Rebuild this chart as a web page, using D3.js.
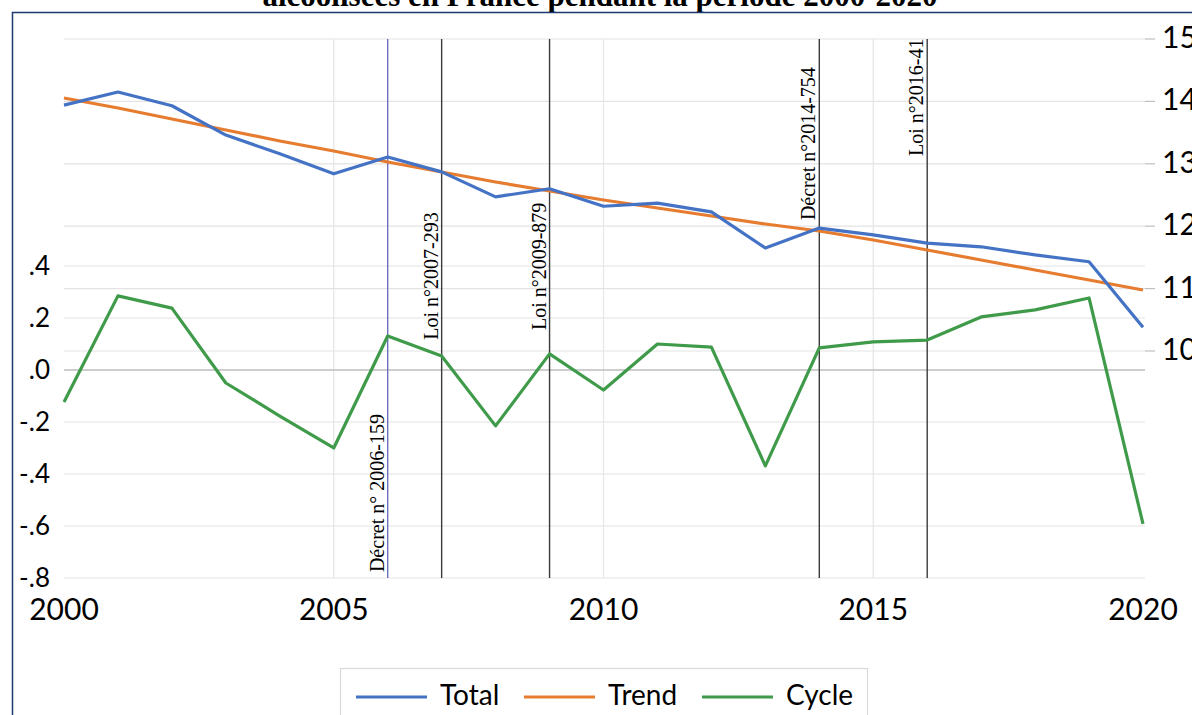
<!DOCTYPE html>
<html><head><meta charset="utf-8">
<script src="https://cdn.jsdelivr.net/npm/d3@7"></script>
<style>body{margin:0;background:#fff}svg{display:block}</style>
</head><body>
<script>
const years = d3.range(2000, 2021);
const total = [13.94,14.15,13.93,13.46,13.16,12.84,13.11,12.87,12.47,12.60,12.32,12.37,12.23,11.65,11.97,11.86,11.73,11.67,11.54,11.43,10.38];
const trend = [14.054,13.894,13.718,13.542,13.365,13.205,13.029,12.869,12.708,12.564,12.420,12.292,12.163,12.035,11.923,11.779,11.619,11.458,11.298,11.138,10.978];
const cycle = [-0.123,0.285,0.238,-0.05,-0.177,-0.30,0.131,0.054,-0.215,0.062,-0.077,0.10,0.088,-0.369,0.085,0.108,0.115,0.204,0.231,0.277,-0.592];
const leftTicks = [0.4,0.2,0,-0.2,-0.4,-0.6,-0.8];
const leftLabels = [".4",".2",".0","-.2","-.4","-.6","-.8"];
const rightTicks = [15,14,13,12,11,10];
const xTicks = [2000,2005,2010,2015,2020];
const events = [
  {year:2006, label:"Décret n° 2006-159", start:0.989},
  {year:2007, label:"Loi n°2007-293", start:0.558},
  {year:2009, label:"Loi n°2009-879", start:0.540},
  {year:2014, label:"Décret n°2014-754", start:0.336},
  {year:2016, label:"Loi n°2016-41", start:0.217}
];
const seriesNames = ["Total","Trend","Cycle"];
const title = "alcoolisées en France pendant la période 2000-2020";

const W=1192,H=715;
const L=64,R=1143,T=39,B=578;
const x = d3.scaleLinear().domain([2000,2020]).range([L,R]);
const yL = d3.scaleLinear().domain([-0.8,1.273]).range([B,T]);
const yR = d3.scaleLinear().domain([6.362,15]).range([B,T]);
const colors = {Total:"#4472c4",Trend:"#e67c30",Cycle:"#3f9b4a"};
const font = "Lato, 'Open Sans', sans-serif";
const serif = "'Liberation Serif', 'Times New Roman', serif";

const svg = d3.select("body").append("svg").attr("width",W).attr("height",H);

// title
svg.append("text").attr("x",600).attr("y",6).attr("text-anchor","middle")
  .attr("font-family",serif).attr("font-weight","bold")
  .attr("font-size",31).text(title);

// border
svg.append("rect").attr("x",12.5).attr("y",12.5).attr("width",1200).attr("height",760)
  .attr("fill","none").attr("stroke","#1f3a6e").attr("stroke-width",1.5);

const g = svg.append("g");
g.selectAll(".vg").data([2005,2010,2015]).join("line")
  .attr("x1",d=>x(d)).attr("x2",d=>x(d)).attr("y1",T).attr("y2",B)
  .attr("stroke","#e6e6e6").attr("stroke-width",1.2);
g.selectAll(".rg").data(rightTicks).join("line")
  .attr("x1",L).attr("x2",R+2).attr("y1",d=>yR(d)).attr("y2",d=>yR(d))
  .attr("stroke","#e3e3e3").attr("stroke-width",1.2);
g.selectAll(".lg").data(leftTicks).join("line")
  .attr("x1",L).attr("x2",R+2).attr("y1",d=>yL(d)).attr("y2",d=>yL(d))
  .attr("stroke",d=>d===0?"#bdbdbd":"#e3e3e3").attr("stroke-width",d=>d===0?1.6:1.2);
g.selectAll(".rt").data(rightTicks).join("line")
  .attr("x1",R+2).attr("x2",R+12).attr("y1",d=>yR(d)).attr("y2",d=>yR(d))
  .attr("stroke","#bfbfbf").attr("stroke-width",1.2);

g.selectAll(".ev").data(events).join("line")
  .attr("x1",d=>x(d.year)).attr("x2",d=>x(d.year)).attr("y1",T).attr("y2",B)
  .attr("stroke",d=>d.year===2006?"#6f6fc0":"#3a3a3a").attr("stroke-width",1.4);
g.selectAll(".evt").data(events).join("text")
  .attr("transform",d=>`translate(${x(d.year)-4},${T+(B-T)*d.start}) rotate(-90)`)
  .attr("font-family",serif).attr("font-size",20)
  .attr("fill","#000").text(d=>d.label);

const line = (ys, yscale) => d3.line().x((d,i)=>x(years[i])).y(d=>yscale(d))(ys);
g.append("path").attr("d",line(trend,yR)).attr("fill","none").attr("stroke",colors.Trend).attr("stroke-width",3.2);
g.append("path").attr("d",line(total,yR)).attr("fill","none").attr("stroke",colors.Total).attr("stroke-width",3.2).attr("stroke-linejoin","round");
g.append("path").attr("d",line(cycle,yL)).attr("fill","none").attr("stroke",colors.Cycle).attr("stroke-width",3.2).attr("stroke-linejoin","round");

g.selectAll(".ll").data(leftTicks).join("text")
  .attr("x",50).attr("y",d=>yL(d)).attr("dy","0.36em").attr("text-anchor","end")
  .attr("font-family",font).attr("font-size",26).attr("fill","#000")
  .text((d,i)=>leftLabels[i]);
g.selectAll(".rl").data(rightTicks).join("text")
  .attr("x",1162).attr("y",d=>yR(d)).attr("dy","0.3em")
  .attr("font-family",font).attr("font-size",30).attr("fill","#000").text(d=>d);
g.selectAll(".xl").data(xTicks).join("text")
  .attr("x",d=>x(d)).attr("y",620).attr("text-anchor","middle")
  .attr("font-family",font).attr("font-size",30).attr("fill","#000").text(d=>d);

svg.append("rect").attr("x",340.5).attr("y",668.5).attr("width",527).attr("height",80)
  .attr("fill","#fff").attr("stroke","#d9d9d9").attr("stroke-width",1.2);
const lx = [356,524,702];
const lg = svg.selectAll(".leg").data(seriesNames).join("g").attr("transform",(d,i)=>`translate(${lx[i]},697)`);
lg.append("line").attr("x1",0).attr("x2",71).attr("y1",0).attr("y2",0).attr("stroke",d=>colors[d]).attr("stroke-width",3.2);
lg.append("text").attr("x",84).attr("y",8).attr("font-family",font).attr("font-size",28).attr("fill","#000").text(d=>d);
</script>
</body></html>
